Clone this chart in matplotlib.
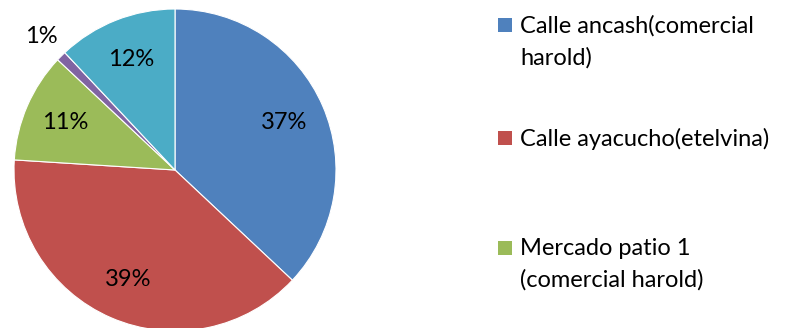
import matplotlib
matplotlib.use("Agg")
import matplotlib.pyplot as plt
import numpy as np
from matplotlib.patches import Rectangle

plt.rcParams['font.family'] = ['Lato', 'DejaVu Sans']

# share of sales by location
labels = ['Calle ancash(comercial\nharold)', 'Calle ayacucho(etelvina)',
          'Mercado patio 1\n(comercial harold)', 'Otro 1', 'Otro 2']
shares = [37, 39, 11, 1, 12]
colors = ['#4F81BD', '#C0504D', '#9BBB59', '#8064A2', '#4BACC6']

W, H = 786, 328
fig = plt.figure(figsize=(W / 100, H / 100), dpi=100)

cx, cy, r = 175, 170, 161
ax = fig.add_axes([(cx - r) / W, (H - cy - r) / H, 2 * r / W, 2 * r / H])
wedges, texts, autotexts = ax.pie(
    shares, colors=colors, startangle=90, counterclock=False,
    autopct='%1.0f%%', pctdistance=0.74,
    wedgeprops=dict(edgecolor='white', linewidth=0.8),
    textprops=dict(fontsize=17, color='black'))
ax.set_xlim(-1, 1)
ax.set_ylim(-1, 1)
ax.set_aspect('equal')

# small slice: put its label outside the pie
for w, t, s in zip(wedges, autotexts, shares):
    if s < 3:
        ang = np.deg2rad((w.theta1 + w.theta2) / 2)
        t.set_position((1.17 * np.cos(ang), 1.17 * np.sin(ang)))

# legend shows only the first three entries
rows = [25, 138, 248]
for w, lab, y in zip(wedges[:3], labels[:3], rows):
    fig.add_artist(Rectangle((498 / W, 1 - (y + 7) / H), 14 / W, 14 / H,
                             transform=fig.transFigure,
                             facecolor=w.get_facecolor(), edgecolor='none'))
    fig.text(520 / W, 1 - (y - 10) / H, lab, fontsize=17, va='top',
             ha='left', linespacing=1.6, color='black')

fig.savefig('out.png', dpi=100)
